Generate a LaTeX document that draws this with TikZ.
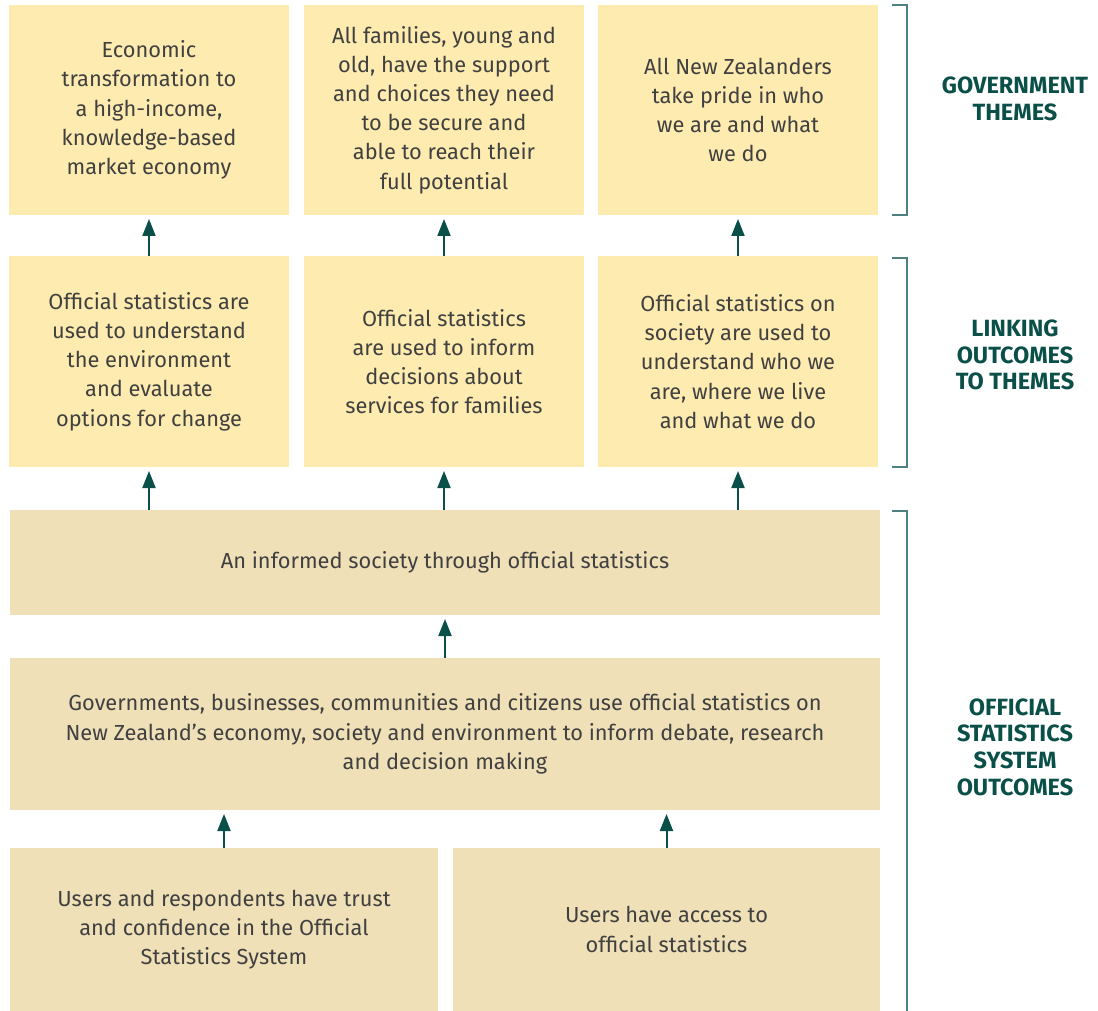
\documentclass[tikz,border=0pt]{standalone}
\usepackage{fontspec}
\setmainfont{Fira Sans}
\usetikzlibrary{arrows.meta}
\definecolor{themefill}{HTML}{FEEBB0}
\definecolor{sysfill}{HTML}{F0E0B8}
\definecolor{arrowcol}{HTML}{0B5048}
\definecolor{bracketcol}{HTML}{4F8080}
\definecolor{labelcol}{HTML}{0B5048}
\definecolor{textcol}{HTML}{404040}
\begin{document}
\begin{tikzpicture}[x=1pt,y=-1pt,
  box/.style={inner sep=0pt,outer sep=0pt,align=center,text=textcol,
    font=\fontsize{21.8}{29.2}\selectfont},
  theme/.style={box,fill=themefill,minimum width=280pt,minimum height=210pt},
  sysbox/.style={box,fill=sysfill},
  up/.style={draw=arrowcol,line width=2pt,-{Triangle[width=13pt,length=17pt]},shorten >=4pt},
  brk/.style={draw=bracketcol,line width=1.3pt},
  lbl/.style={text=labelcol,align=center,font=\fontsize{23.5}{26.7}\selectfont\bfseries}]
\useasboundingbox (0,0) rectangle (1098,1011);
% row 1
\node[theme] (T1) at (149,110) {Economic\\transformation to\\a high-income,\\knowledge-based\\market economy};
\node[theme] (T2) at (444,110) {All families, young and\\old, have the support\\and choices they need\\to be secure and\\able to reach their\\full potential};
\node[theme] (T3) at (738,110) {All New Zealanders\\take pride in who\\we are and what\\we do};
% row 2
\node[theme,minimum height=211pt] (L1) at (149,361.5) {Official statistics are\\used to understand\\the environment\\and evaluate\\options for change};
\node[theme,minimum height=211pt] (L2) at (444,361.5) {Official statistics\\are used to inform\\decisions about\\services for families};
\node[theme,minimum height=211pt] (L3) at (738,361.5) {Official statistics on\\society are used to\\understand who we\\are, where we live\\and what we do};
% row 3
\node[sysbox,minimum width=870pt,minimum height=105pt] (S1) at (445,562.5) {An informed society through official statistics};
% row 4
\node[sysbox,minimum width=870pt,minimum height=152pt] (S2) at (445,734) {Governments, businesses, communities and citizens use official statistics on\\New Zealand’s economy, society and environment to inform debate, research\\and decision making};
% row 5
\node[sysbox,minimum width=428pt,minimum height=163pt] (U1) at (224,929.5) {Users and respondents have trust\\and confidence in the Official\\Statistics System};
\node[sysbox,minimum width=427pt,minimum height=163pt] (U2) at (666.5,929.5) {Users have access to\\official statistics};
% arrows
\draw[up] (L1.north) -- (T1.south);
\draw[up] (L2.north) -- (T2.south);
\draw[up] (L3.north) -- (T3.south);
\draw[up] (S1.north -| L1) -- (L1.south);
\draw[up] (S1.north -| L2) -- (L2.south);
\draw[up] (S1.north -| L3) -- (L3.south);
\draw[up] (S2.north -| S1) -- (S1.south);
\draw[up] (U1.north) -- (S2.south -| U1);
\draw[up] (U2.north) -- (S2.south -| U2);
% brackets
\coordinate (b1a) at (892,5); \coordinate (b1b) at (907,5);
\coordinate (b1c) at (907,215); \coordinate (b1d) at (892,215);
\draw[brk] (b1a) -- (b1b) -- (b1c) -- (b1d);
\coordinate (b2a) at (892,258); \coordinate (b2b) at (907,258);
\coordinate (b2c) at (907,467); \coordinate (b2d) at (892,467);
\draw[brk] (b2a) -- (b2b) -- (b2c) -- (b2d);
\coordinate (b3a) at (892,511); \coordinate (b3b) at (907,511);
\coordinate (b3c) at (907,1011);
\draw[brk] (b3a) -- (b3b) -- (b3c);
% labels
\node[lbl] (G) at (1015,99) {GOVERNMENT\\THEMES};
\node[lbl] (LK) at (1015,355) {LINKING\\OUTCOMES\\TO THEMES};
\node[lbl] (OS) at (1015,747) {OFFICIAL\\STATISTICS\\SYSTEM\\OUTCOMES};
\end{tikzpicture}
\end{document}
